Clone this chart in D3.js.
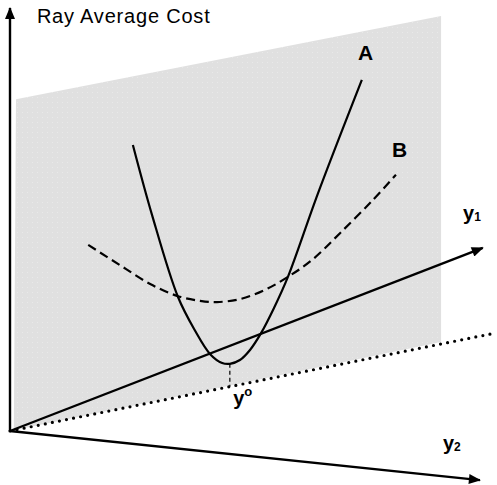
<!DOCTYPE html>
<html><head><meta charset="utf-8">
<script src="https://cdn.jsdelivr.net/npm/d3@7"></script>
<style>body{margin:0;background:#fff}svg{display:block}</style>
</head><body>
<svg id="chart" width="497" height="485"></svg>
<script>
// ---- data (abstract units: x = output direction, y = ray average cost) ----
const curveA = [[25.6,68.1],[29.6,51.4],[35.0,31.9],[38.5,24.0],[41.7,18.3],[44.2,16.2],[45.8,16.0],[47.9,16.9],[50.0,19.3],[52.3,23.3],[55.0,29.3],[57.9,36.7],[64.2,56.7],[73.3,83.6]];
const curveB = [[16.3,44.3],[22.9,39.5],[29.2,35.0],[35.0,32.1],[39.6,31.0],[43.1,30.7],[47.9,31.4],[53.1,33.6],[57.9,36.7],[62.9,40.7],[68.75,47.1],[75.6,55.0],[80.4,61.0]];
const planeCorners = [[1.25,79.0],[89.8,98.8],[89.8,21.2],[0.8,0.2]];
const origin = [0,0];
const axisTips = [["cost",0,100.7],["y1",98.5,43.6],["y2",97.9,-11.7]];
const rayEnd = [101.0,23.3];
const minDrop = [[45.8,16.0],[45.8,10.6]];
const labels = [
  {text:"Ray Average Cost", x:5.6, y:97.1, bold:false, size:20, sub:null},
  {text:"A", x:72.5, y:88.3, bold:true, size:21, sub:null},
  {text:"B", x:79.6, y:65.2, bold:true, size:21, sub:null},
  {text:"y", x:94.4, y:50.2, bold:true, size:20, sub:"1"},
  {text:"y", x:90.2, y:-4.5, bold:true, size:20, sub:"2"},
  {text:"y", x:46.5, y:6.2, bold:true, size:20, sup:"o"}
];

// ---- scales ----
const x = d3.scaleLinear().domain([0,100]).range([10,490]);
const y = d3.scaleLinear().domain([0,100]).range([431,11]);

const svg = d3.select("#chart");
const defs = svg.append("defs");
defs.append("marker").attr("id","arrow")
  .attr("viewBox","0 0 12 10").attr("refX",11).attr("refY",5)
  .attr("markerWidth",13).attr("markerHeight",10)
  .attr("markerUnits","userSpaceOnUse").attr("orient","auto")
  .append("path").attr("d","M0,0 L12,5 L0,10 Z").attr("fill","#000");

const pat = defs.append("pattern").attr("id","dots").attr("patternUnits","userSpaceOnUse")
  .attr("width",5).attr("height",5);
pat.append("rect").attr("width",5).attr("height",5).attr("fill","#e0e0e0");
pat.append("rect").attr("x",2).attr("y",2).attr("width",1).attr("height",1).attr("fill","#e9e9e9");

const line = d3.line().x(d=>x(d[0])).y(d=>y(d[1]));

// plane
svg.append("path").datum(planeCorners)
  .attr("d", line.curve(d3.curveLinearClosed)).attr("fill","url(#dots)");
line.curve(d3.curveLinear);

// dotted ray
svg.append("path").datum([origin, rayEnd]).attr("d", line)
  .attr("stroke","#000").attr("stroke-width",3.2).attr("stroke-linecap","round")
  .attr("stroke-dasharray","0 7.2").attr("fill","none");

// drop line from minimum of A
svg.append("path").datum(minDrop).attr("d", line)
  .attr("stroke","#000").attr("stroke-width",1.2).attr("stroke-dasharray","4 3").attr("fill","none");

// curves
const smooth = d3.line().x(d=>x(d[0])).y(d=>y(d[1])).curve(d3.curveCatmullRom.alpha(0.5));
svg.append("path").datum(curveB).attr("d", smooth)
  .attr("stroke","#000").attr("stroke-width",2.2).attr("stroke-dasharray","9 5").attr("fill","none");
svg.append("path").datum(curveA).attr("d", smooth)
  .attr("stroke","#000").attr("stroke-width",2.2).attr("fill","none");

// axes
svg.selectAll("path.axis").data(axisTips).enter().append("path").attr("class","axis")
  .attr("d", d => line([origin,[d[1],d[2]]]))
  .attr("stroke","#000").attr("stroke-width",2.4).attr("fill","none")
  .attr("marker-end","url(#arrow)");

// labels
labels.forEach(l => {
  const t = svg.append("text").attr("x", x(l.x)).attr("y", y(l.y))
    .attr("font-family","'Liberation Sans', Arial, sans-serif")
    .attr("font-size", l.size).attr("font-weight", l.bold ? "bold" : "normal")
    .attr("fill","#000");
  if (!l.bold) t.attr("letter-spacing", 0.8);
  t.append("tspan").text(l.text);
  if (l.sub) t.append("tspan").attr("font-size",12).attr("dy",1).text(l.sub);
  if (l.sup) t.append("tspan").attr("font-size",13).attr("dy",-9).text(l.sup);
});
</script>
</body></html>
